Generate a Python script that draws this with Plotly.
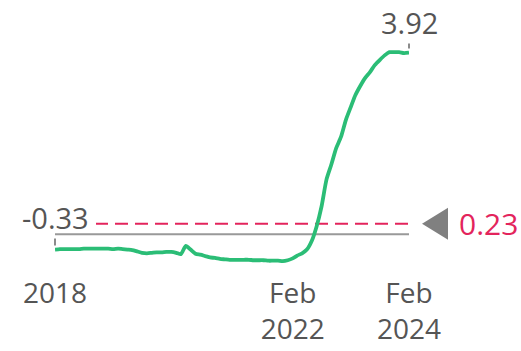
import pandas as pd
import plotly.graph_objects as go

dates = pd.date_range("2018-01-01", "2024-02-01", freq="MS")
values = [
    -0.33, -0.32, -0.32, -0.32, -0.32, -0.32, -0.31, -0.31, -0.31, -0.31,
    -0.31, -0.31, -0.32, -0.31, -0.32, -0.33, -0.34, -0.37, -0.40, -0.41,
    -0.40, -0.39, -0.39, -0.38, -0.38, -0.40, -0.43, -0.25, -0.33, -0.42,
    -0.44, -0.47, -0.50, -0.51, -0.53, -0.54, -0.55, -0.55, -0.55, -0.55,
    -0.55, -0.56, -0.56, -0.56, -0.57, -0.57, -0.57, -0.58, -0.56, -0.52,
    -0.46, -0.41, -0.33, -0.14, 0.17, 0.60, 1.18, 1.50, 1.86, 2.10,
    2.47, 2.75, 3.00, 3.20, 3.37, 3.50, 3.65, 3.76, 3.86, 3.93,
    3.93, 3.93, 3.91, 3.92,
]
tick_vals = ["2018-01-01", "2022-02-01", "2024-02-01"]
tick_text = ["2018", "Feb<br>2022", "Feb<br>2024"]
ref_value = 0.23
zero_value = 0.0
start_label = "-0.33"
end_label = "3.92"
ref_label = "0.23"

GREEN = "#2bbd76"
PINK = "#e3245c"
GRAY_TXT = "#555555"
FONT = "Open Sans"

fig = go.Figure()
fig.add_trace(go.Scatter(
    x=dates, y=values, mode="lines",
    line=dict(color=GREEN, width=3.8, shape="spline", smoothing=0.6),
    hoverinfo="skip", showlegend=False,
))

# zero line and reference dashed line
fig.add_shape(type="line", xref="paper", x0=0, x1=1, yref="y", y0=zero_value, y1=zero_value,
              line=dict(color="#999999", width=2), layer="below")
fig.add_shape(type="line", xref="paper", x0=0, x1=1, yref="y", y0=ref_value, y1=ref_value,
              line=dict(color=PINK, width=2, dash="13px,7px"), layer="below")
# knock out the dashed line behind the start label
fig.add_shape(type="rect", xref="x", yref="y", xsizemode="pixel", ysizemode="pixel",
              xanchor=dates[0], yanchor=ref_value, x0=-45, x1=41, y0=-3, y1=3,
              fillcolor="white", line=dict(width=0), layer="below")

# triangle marker
fig.add_shape(type="path", xref="paper", yref="y", xsizemode="pixel", ysizemode="pixel",
              xanchor=1, yanchor=ref_value,
              path="M 13 0 L 39 16 L 39 -16 Z",
              fillcolor="#808080", line=dict(width=0), layer="above")

fig.add_annotation(x=1, xref="paper", xanchor="left", xshift=48, y=ref_value, yref="y",
                   text=ref_label, showarrow=False,
                   font=dict(family=FONT, size=30, color=PINK))

fig.add_annotation(x=dates[0], y=values[0], text=start_label, showarrow=True,
                   arrowhead=0, arrowwidth=1.5, arrowcolor="#666666", ax=0, ay=-32, standoff=4,
                   font=dict(family=FONT, size=29, color=GRAY_TXT))
fig.add_annotation(x=dates[-1], y=values[-1], text=end_label, showarrow=True,
                   arrowhead=0, arrowwidth=1.5, arrowcolor="#666666", ax=0, ay=-30, standoff=4,
                   font=dict(family=FONT, size=29, color=GRAY_TXT))

fig.update_layout(
    width=521, height=351,
    margin=dict(l=55, r=112, t=35, b=75),
    paper_bgcolor="white", plot_bgcolor="white",
    font=dict(family=FONT, color=GRAY_TXT),
    xaxis=dict(range=[dates[0], dates[-1]], tickvals=tick_vals, ticktext=tick_text,
               showgrid=False, zeroline=False, showline=False, ticks="",
               automargin=False, ticklabelstandoff=-2,
               tickfont=dict(family=FONT, size=28, color=GRAY_TXT)),
    yaxis=dict(range=[-0.9, 4.3], visible=False, showgrid=False, zeroline=False,
               automargin=False),
)

fig.write_html("out.html")
